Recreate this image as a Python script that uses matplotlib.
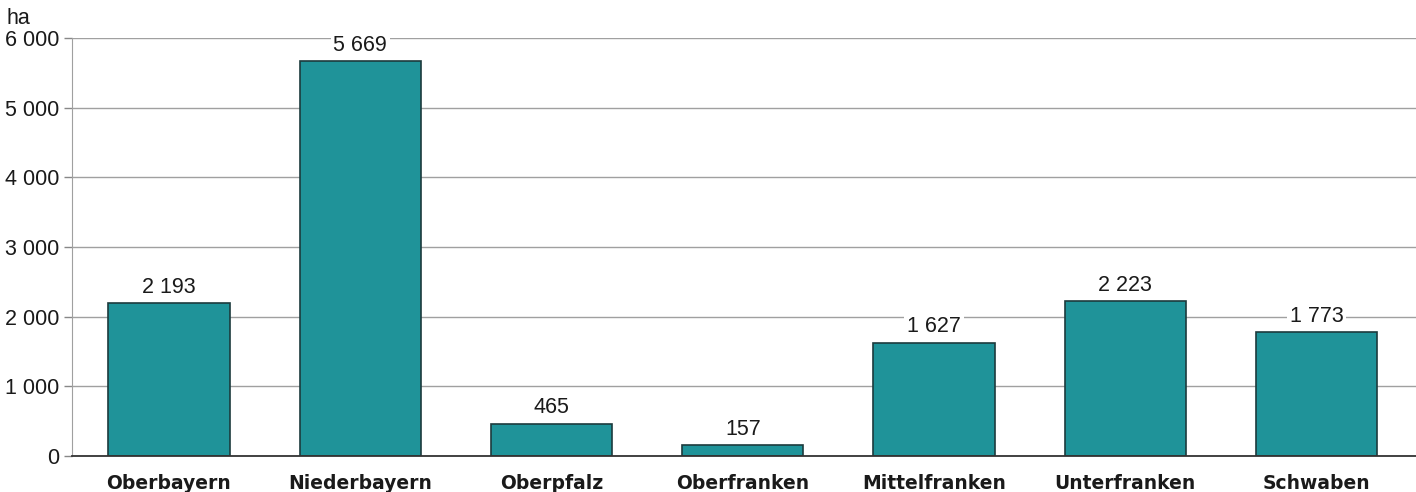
import matplotlib
matplotlib.use("Agg")
import matplotlib.pyplot as plt

categories = ["Oberbayern", "Niederbayern", "Oberpfalz", "Oberfranken",
              "Mittelfranken", "Unterfranken", "Schwaben"]
values = [2193, 5669, 465, 157, 1627, 2223, 1773]
yticks = [0, 1000, 2000, 3000, 4000, 5000, 6000]

plt.rcParams['font.family'] = ['Liberation Sans', 'DejaVu Sans']

def fmt(v):
    return f"{v:,}".replace(",", " ")

fig = plt.figure(figsize=(14.16, 4.92), dpi=100)
W, H = 1416, 492
ax = fig.add_axes([72 / W, (H - 456) / H, (W - 72) / W, (456 - 38) / H])

x = list(range(len(categories)))
ax.bar(x, values, width=0.635, color="#1f9399", edgecolor="#1c3b3d",
       linewidth=1.2, zorder=3)

for xi, v in zip(x, values):
    ax.annotate(fmt(v), (xi, v), xytext=(0, 4), textcoords="offset points",
                ha="center", va="bottom", fontsize=15.5, color="#1a1a1a",
                bbox=dict(boxstyle="square,pad=0.12", fc="white", ec="none"),
                zorder=4)

ax.set_xlim(-0.507, 6.52)
ax.set_ylim(0, 6000)
ax.set_yticks(yticks)
ax.set_yticklabels([fmt(t) for t in yticks], fontsize=15.5, color="#1a1a1a")
ax.set_xticks(x)
ax.set_xticklabels(categories, fontsize=13.5, fontweight="bold",
                   family=["DejaVu Sans"], color="#1a1a1a")
ax.tick_params(axis="x", length=0, pad=13)
ax.tick_params(axis="y", length=6, color="#888888", width=1, pad=3)

ax.grid(axis="y", color="#a0a0a0", linewidth=1, zorder=0)
ax.set_axisbelow(True)
for s in ["top", "right"]:
    ax.spines[s].set_visible(False)
ax.spines["left"].set_color("#a0a0a0")
ax.spines["bottom"].set_color("#333333")
ax.spines["bottom"].set_linewidth(1.3)
ax.spines["bottom"].set_zorder(5)

fig.text(7 / W, 1 - 18 / H, "ha", fontsize=15.5, color="#1a1a1a",
         ha="left", va="center")

fig.savefig("out.png", dpi=100, facecolor="white")
